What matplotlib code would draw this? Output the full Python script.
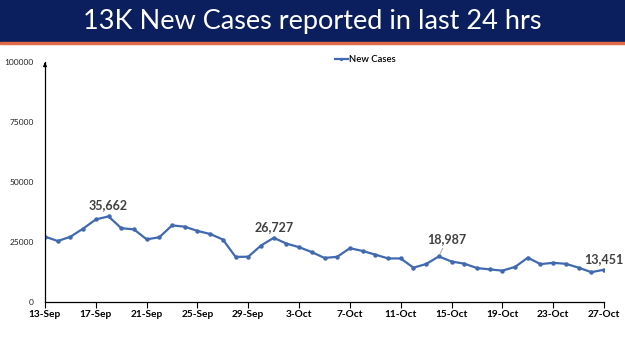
import numpy as np
import pandas as pd
import matplotlib
matplotlib.use("Agg")
import matplotlib.pyplot as plt
import matplotlib.dates as mdates
from matplotlib.patches import Rectangle

title = "13K New Cases reported in last 24 hrs"
dates = pd.date_range("2020-09-13", "2020-10-27", freq="D")
new_cases = [27254, 25404, 27176, 30570, 34403, 35662, 30773, 30256, 26115, 26964,
             31923, 31382, 29616, 28326, 26041, 18795, 18870, 23529, 26727, 24354,
             22842, 20799, 18346, 18833, 22431, 21257, 19740, 18166, 18132, 14313,
             15823, 18987, 16862, 15981, 14146, 13596, 13058, 14623, 18454, 15786,
             16326, 15906, 14306, 12428, 13451]
labelled = ["2020-09-18", "2020-10-01", "2020-10-14", "2020-10-27"]
yticks = [0, 25000, 50000, 75000, 100000]

line_col = "#4169b0"
plt.rcParams['font.family'] = ['Lato', 'DejaVu Sans']

fig = plt.figure(figsize=(6.25, 3.51), dpi=100)
fig.patches.append(Rectangle((0, 1 - 42 / 351), 1, 42 / 351, transform=fig.transFigure,
                             color="#0b1f5e", zorder=0))
fig.patches.append(Rectangle((0, 1 - 44 / 351), 1, 2 / 351, transform=fig.transFigure,
                             color="#e06a45", zorder=0))
fig.text(0.5, 1 - 21 / 351, title, color="white", fontsize=19.5, ha="center", va="center")

ax = fig.add_axes([45 / 625, 1 - 302 / 351, (604 - 45) / 625, (302 - 62) / 351])
ax.plot(dates, new_cases, color=line_col, lw=1.6, marker="o", ms=2.2, label="New Cases")

ax.set_xlim(dates[0], dates[-1])
ax.set_ylim(0, 100000)
ax.set_yticks(yticks)
ax.set_yticklabels([str(v) for v in yticks], fontsize=6, color="#222222")
ax.tick_params(axis="y", length=0, pad=8)
ax.set_xticks(dates[::4])
ax.xaxis.set_major_formatter(mdates.DateFormatter("%-d-%b"))
ax.tick_params(axis="x", length=4, width=0.8, labelsize=7.3, pad=2)
for lab in ax.get_xticklabels():
    lab.set_fontweight("bold")

for s in ["top", "right"]:
    ax.spines[s].set_visible(False)
ax.spines["left"].set_linewidth(0.9)
ax.spines["bottom"].set_linewidth(0.9)
ax.annotate("", xy=(0, 1.01), xycoords="axes fraction", xytext=(0, 0.98),
            arrowprops=dict(arrowstyle="-|>", color="black", lw=0.9, mutation_scale=5))

for d in labelled:
    i = list(dates).index(pd.Timestamp(d))
    v = new_cases[i]
    if d == "2020-10-14":
        ax.annotate(f"{v:,}", xy=(dates[i], v), xytext=(8, 11), textcoords="offset pixels",
                    ha="center", va="bottom", fontsize=9, fontweight="bold", color="#404040",
                    arrowprops=dict(arrowstyle="-", color="#999999", lw=0.6, shrinkA=0, shrinkB=2))
    else:
        ax.annotate(f"{v:,}", xy=(dates[i], v), xytext=(0, 5), textcoords="offset pixels",
                    ha="center", va="bottom", fontsize=9, fontweight="bold", color="#404040",
                    annotation_clip=False)

leg = fig.legend(loc="center", bbox_to_anchor=(365 / 625, 1 - 60 / 351), frameon=False,
                 fontsize=6.8, handlelength=1.4, handletextpad=0.1, markerscale=0.6)
for t in leg.get_texts():
    t.set_fontweight("semibold")

fig.savefig("out.png", dpi=100)
